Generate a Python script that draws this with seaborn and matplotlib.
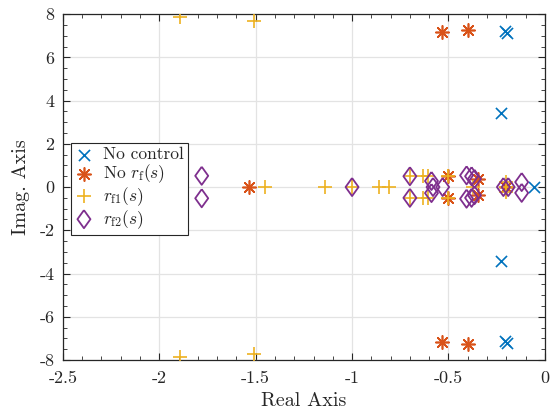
import numpy as np
import pandas as pd
import matplotlib
matplotlib.use("Agg")
import matplotlib.pyplot as plt
import seaborn as sns

# ---- data ----
nc_re = [-0.205, -0.195, -0.225, -0.225, -0.205, -0.195, -0.055]
nc_im = [7.22, 7.12, 3.44, -3.44, -7.12, -7.22, 0.0]

norf_re = [-0.536, -0.398, -0.536, -0.398, -1.535, -0.50, -0.50, -0.345, -0.345, -0.20]
norf_im = [7.18, 7.27, -7.18, -7.27, 0.0, 0.5, -0.5, 0.35, -0.35, 0.0]

rf1_re = [-1.893, -1.508, -1.893, -1.508, -1.452, -1.14, -1.0, -0.861, -0.808,
          -0.70, -0.70, -0.632, -0.632, -0.605, -0.605, -0.50, -0.50, -0.375,
          -0.20, -0.20, -0.20]
rf1_im = [7.86, 7.7, -7.86, -7.7, 0.0, 0.0, 0.0, 0.0, 0.0,
          0.5, -0.5, 0.5, -0.5, 0.5, -0.5, 0.5, -0.5, 0.0,
          0.22, -0.22, 0.0]

rf2_re = [-1.78, -1.78, -1.0, -0.70, -0.70, -0.588, -0.58, -0.588, -0.53,
          -0.406, -0.38, -0.365, -0.406, -0.38, -0.365, -0.215, -0.19, -0.12, -0.12]
rf2_im = [0.52, -0.52, 0.0, 0.5, -0.5, 0.28, 0.0, -0.28, 0.0,
          0.54, 0.5, 0.38, -0.54, -0.5, -0.38, 0.0, 0.0, 0.23, -0.27]

labels = ["No control", r"No $r_{\mathrm{f}}(s)$", r"$r_{\mathrm{f1}}(s)$", r"$r_{\mathrm{f2}}(s)$"]
colors = ["#0072BD", "#D95319", "#EDB120", "#7E2F8E"]

x_ticks = [-2.5, -2, -1.5, -1, -0.5, 0]
x_tick_labels = ["-2.5", "-2", "-1.5", "-1", "-0.5", "0"]
y_ticks = [-8, -6, -4, -2, 0, 2, 4, 6, 8]
y_tick_labels = ["-8", "-6", "-4", "-2", "0", "2", "4", "6", "8"]

# ---- style ----
sns.set_theme(style="white")
plt.rcParams["font.family"] = ["cmr10", "DejaVu Serif"]
plt.rcParams["mathtext.fontset"] = "cm"
plt.rcParams["axes.unicode_minus"] = False

fig = plt.figure(figsize=(5.52, 4.15), dpi=100)
ax = fig.add_axes([0.114, 0.1325, 0.873, 0.8335])

diamond = [(0, 1), (0.72, 0), (0, -1), (-0.72, 0), (0, 1)]
asterisk = (8, 2, 0)

series = [
    (nc_re, nc_im, "x", 8.0, labels[0], colors[0], True),
    (norf_re, norf_im, asterisk, 9.5, labels[1], colors[1], True),
    (rf1_re, rf1_im, "+", 10.0, labels[2], colors[2], True),
    (rf2_re, rf2_im, diamond, 13.0, labels[3], colors[3], False),
]

for xs, ys, mk, ms, lab, col, line_marker in series:
    df = pd.DataFrame({"re": xs, "im": ys})
    if line_marker:
        sns.scatterplot(data=df, x="re", y="im", marker=mk, s=ms ** 2,
                        color=col, linewidth=1.2, label=lab, ax=ax, zorder=3)
    else:
        sns.scatterplot(data=df, x="re", y="im", marker=mk, s=ms ** 2,
                        facecolor="none", edgecolor=col, linewidth=1.3,
                        label=lab, ax=ax, zorder=3)

ax.set_xlim(-2.5, 0)
ax.set_ylim(-8, 8)
ax.set_xticks(x_ticks)
ax.set_xticklabels(x_tick_labels)
ax.set_yticks(y_ticks)
ax.set_yticklabels(y_tick_labels)
ax.set_xticks(np.arange(-2.5, 0.001, 0.1), minor=True)
ax.set_yticks(np.arange(-8, 8.001, 0.5), minor=True)
ax.grid(True, which="major", color="#e3e3e3", linewidth=0.9, zorder=0)
ax.set_axisbelow(True)

ax.tick_params(which="both", direction="in", top=True, right=True,
               bottom=True, left=True, colors="#262626", labelsize=13)
ax.tick_params(which="major", length=5, width=0.8)
ax.tick_params(which="minor", length=3, width=0.6)
ax.tick_params(axis="x", which="major", pad=8)
ax.tick_params(axis="y", which="major", pad=6)
for sp in ax.spines.values():
    sp.set_color("#262626")
    sp.set_linewidth(0.9)
    sp.set_visible(True)

ax.set_xlabel("Real Axis", fontsize=14.5, color="#262626", labelpad=4)
ax.set_ylabel("Imag. Axis", fontsize=14.5, color="#262626", labelpad=7)

leg = ax.legend(loc="upper left", bbox_to_anchor=(0.0166, 0.628), borderaxespad=0,
                fontsize=12.5, frameon=True, fancybox=False, edgecolor="#262626",
                framealpha=1, handlelength=1.0, handletextpad=0.6,
                borderpad=0.25, labelspacing=0.0)
leg.get_frame().set_linewidth(0.8)

fig.savefig("out.png", dpi=100)
